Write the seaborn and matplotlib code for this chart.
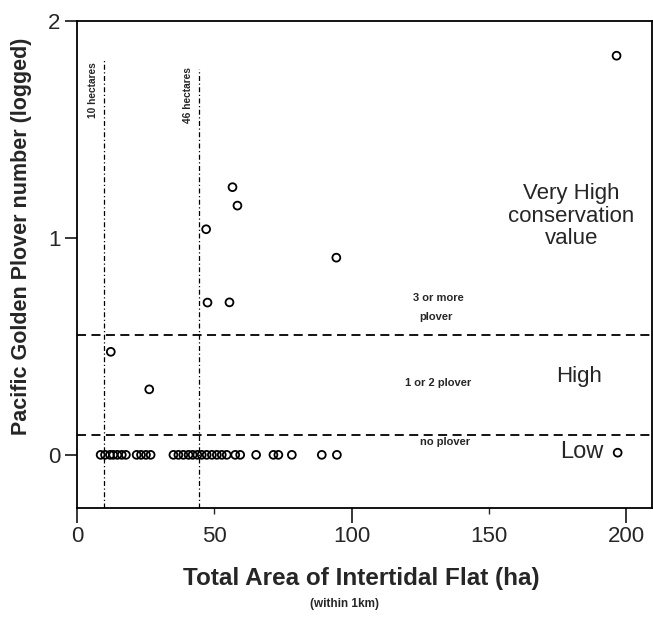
import matplotlib
matplotlib.use("Agg")
import matplotlib.pyplot as plt
import seaborn as sns
import pandas as pd

sns.set_style("ticks")
plt.rcParams['font.family'] = ['Liberation Sans', 'DejaVu Sans']

# ---- data ----
area_ha = [8.6, 10.2, 12.0, 13.2, 14.7, 16.3, 17.8, 21.7, 23.3, 25.1, 26.8,
           35.1, 36.9, 38.7, 40.6, 42.1, 43.8, 45.4, 47.2, 49.1, 50.9, 52.7,
           54.5, 57.6, 59.4, 65.2, 71.5, 73.3, 78.2, 89.1, 94.6, 196.8,
           12.3, 26.3, 47.0, 47.5, 55.5, 56.6, 58.4, 94.4, 196.4]
plover_log = [0, 0, 0, 0, 0, 0, 0, 0, 0, 0, 0,
              0, 0, 0, 0, 0, 0, 0, 0, 0, 0, 0,
              0, 0, 0, 0, 0, 0, 0, 0, 0, 0.01,
              0.475, 0.302, 1.04, 0.702, 0.703, 1.234, 1.149, 0.909, 1.84]
thresholds_y = [0.552, 0.092]
area_lines = [9.8, 44.3]
area_line_labels = ["10 hectares", "46 hectares"]
x_major = [0, 100, 200]
x_minor = [50, 150]
y_ticks = [0, 1, 2]

df = pd.DataFrame({"area": area_ha, "plover": plover_log})

fig = plt.figure(figsize=(6.53, 6.26), dpi=100)
ax = fig.add_axes([77 / 653, (626 - 508) / 626, (652 - 77) / 653, (508 - 21) / 626])

sns.scatterplot(data=df, x="area", y="plover", ax=ax, marker="o", s=32,
                facecolor="none", edgecolor="black", linewidth=1.3, zorder=3)

ax.set_xlim(0, 209.3)
ax.set_ylim(-0.245, 2.0)

# threshold lines
for yv in thresholds_y:
    ax.axhline(yv, color="black", lw=1.3, ls=(0, (5, 3)), zorder=2)

# hectare lines
tops = [1.82, 1.78]
for xv, top in zip(area_lines, tops):
    ax.plot([xv, xv], [-0.245, top], color="black", lw=0.9,
            ls=(0, (4, 2, 1, 2)), zorder=2)

ax.text(5.9, 1.68, area_line_labels[0], rotation=90, ha="center", va="center",
        fontsize=7.3, fontweight="bold")
ax.text(40.4, 1.66, area_line_labels[1], rotation=90, ha="center", va="center",
        fontsize=7.3, fontweight="bold")

# region annotations
ax.text(180, 1.10, "Very High\nconservation\nvalue", ha="center", va="center",
        fontsize=16, linespacing=1.1)
ax.text(182.9, 0.36, "High", ha="center", va="center", fontsize=16)
ax.text(183.8, 0.014, "Low", ha="center", va="center", fontsize=17)
ax.text(131.6, 0.724, "3 or more", ha="center", va="center", fontsize=8, fontweight="bold")
ax.text(130.5, 0.636, "plover", ha="center", va="center", fontsize=8, fontweight="bold")
ax.text(131.3, 0.332, "1 or 2 plover", ha="center", va="center", fontsize=8, fontweight="bold")
ax.text(133.8, 0.06, "no plover", ha="center", va="center", fontsize=8, fontweight="bold")

# ticks
ax.set_xticks(x_major)
ax.set_xticklabels([str(v) for v in x_major])
ax.set_xticks(x_minor, minor=True)
ax.set_xticklabels([str(v) for v in x_minor], minor=True)
ax.tick_params(axis="x", which="major", length=11, width=1.3, labelsize=16, pad=2)
ax.tick_params(axis="x", which="minor", length=4, width=1.0, labelsize=16, pad=9)
ax.set_yticks(y_ticks)
ax.set_yticklabels([str(v) for v in y_ticks])
ax.tick_params(axis="y", length=9, width=1.3, labelsize=16, pad=3)

for sp in ax.spines.values():
    sp.set_linewidth(1.3)
    sp.set_color("black")

ax.set_xlabel("")
ax.set_ylabel("")
fig.text(22 / 653, 1 - 236 / 626, "Pacific Golden Plover number (logged)",
         rotation=90, ha="center", va="center", fontsize=15.5, fontweight="bold")
fig.text(361 / 653, 1 - 578 / 626, "Total Area of Intertidal Flat (ha)",
         ha="center", va="center", fontsize=17.5, fontweight="bold")
fig.text(345 / 653, 1 - 604 / 626, "(within 1km)", ha="center", va="center",
         fontsize=8.5, fontweight="bold")

fig.savefig("out.png", dpi=100)
